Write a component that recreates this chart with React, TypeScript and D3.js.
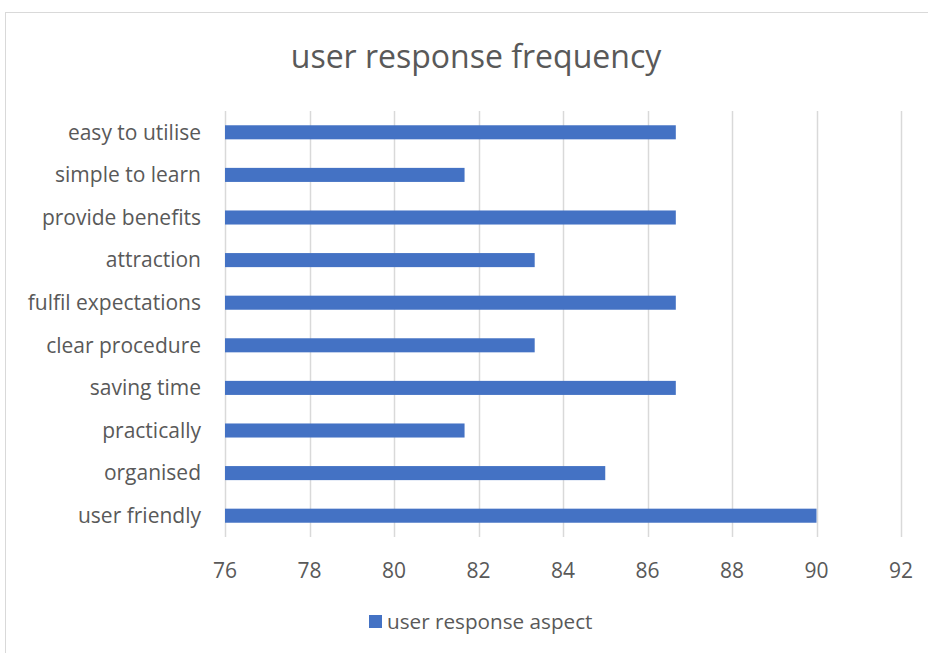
import * as d3 from "d3";
import {useRef, useEffect} from "react";

const categories = [
  "easy to utilise",
  "simple to learn",
  "provide benefits",
  "attraction",
  "fulfil expectations",
  "clear procedure",
  "saving time",
  "practically",
  "organised",
  "user friendly",
];
const values = [86.67, 81.67, 86.67, 83.33, 86.67, 83.33, 86.67, 81.67, 85, 90];
const xTicks = [76, 78, 80, 82, 84, 86, 88, 90, 92];
const seriesName = "user response aspect";
const title = "user response frequency";

const App = () => {
  const ref = useRef<SVGSVGElement>(null);

  useEffect(() => {
    const width = 928, height = 653;
    const font = "'Open Sans', sans-serif";
    const left = 225, right = 901, top = 111, bottom = 537;
    const svg = d3.select(ref.current);
    svg.selectAll("*").remove();

    // chart frame
    svg.append("rect")
      .attr("x", 5.5).attr("y", 12.5)
      .attr("width", 940).attr("height", 660)
      .attr("fill", "#fff").attr("stroke", "#d9d9d9");

    svg.append("text")
      .attr("x", 476).attr("y", 68)
      .attr("text-anchor", "middle")
      .attr("font-family", font).attr("font-size", 32)
      .attr("fill", "#595959")
      .text(title);

    const x = d3.scaleLinear().domain([76, 92]).range([left, right]);
    const y = d3.scaleBand().domain(categories).range([top, bottom]).paddingInner(0.67).paddingOuter(0.335);

    // grid
    svg.append("g").selectAll("line").data(xTicks).join("line")
      .attr("x1", d => Math.round(x(d)) + 0.5).attr("x2", d => Math.round(x(d)) + 0.5)
      .attr("y1", top).attr("y2", bottom)
      .attr("stroke", "#d9d9d9").attr("stroke-width", 1.5);

    svg.append("g").selectAll("rect").data(values).join("rect")
      .attr("x", x(76))
      .attr("y", (d, i) => y(categories[i])!)
      .attr("width", d => x(d) - x(76))
      .attr("height", y.bandwidth())
      .attr("fill", "#4472c4");

    svg.append("g").selectAll("text").data(categories).join("text")
      .attr("x", 201)
      .attr("y", d => y(d)! + y.bandwidth() / 2)
      .attr("dy", "0.35em")
      .attr("text-anchor", "end")
      .attr("font-family", font).attr("font-size", 21)
      .attr("fill", "#595959")
      .text(d => d);

    svg.append("g").selectAll("text").data(xTicks).join("text")
      .attr("x", d => x(d))
      .attr("y", 578)
      .attr("text-anchor", "middle")
      .attr("font-family", font).attr("font-size", 21)
      .attr("fill", "#595959")
      .text(d => d);

    svg.append("rect")
      .attr("x", 369).attr("y", 615).attr("width", 13).attr("height", 13)
      .attr("fill", "#4472c4");
    svg.append("text")
      .attr("x", 387).attr("y", 629)
      .attr("font-family", font).attr("font-size", 20.7)
      .attr("fill", "#595959")
      .text(seriesName);

    svg.attr("width", width).attr("height", height);
  }, []);

  return (
    <svg ref={ref} width={928} height={653}
      style={{position: "absolute", left: 0, top: 0, display: "block"}} />
  );
};

export default App;
